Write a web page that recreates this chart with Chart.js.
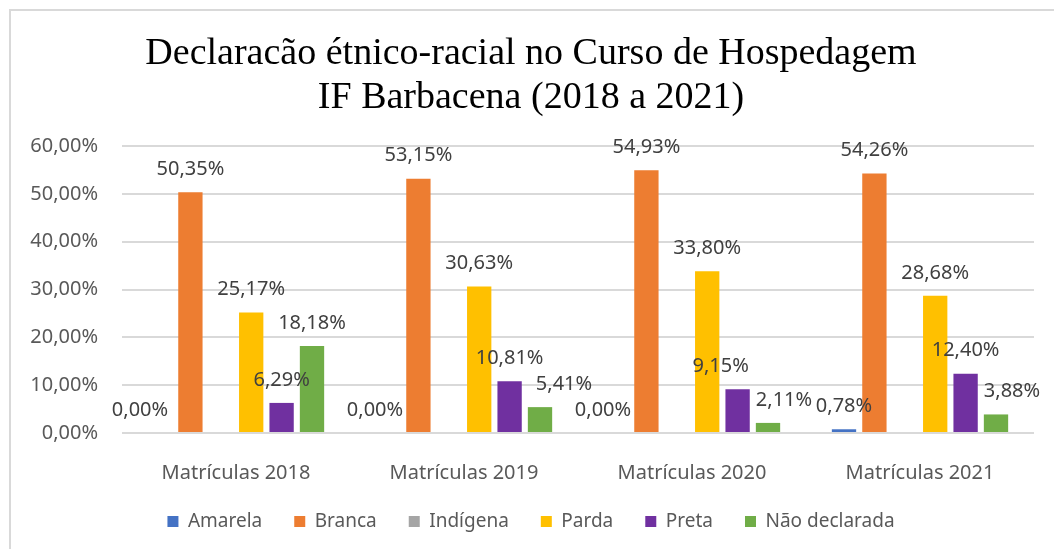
<!DOCTYPE html>
<html>
<head>
<meta charset="utf-8">
<script src="https://cdn.jsdelivr.net/npm/chart.js@4.4.1/dist/chart.umd.min.js"></script>
<style>
  html, body { margin: 0; padding: 0; background: #fff; }
  #wrap { position: relative; width: 1054px; height: 549px; overflow: hidden; }
  #frame { position: absolute; left: 9px; top: 9px; width: 1100px; height: 600px;
           border-top: 2px solid #d9d9d9; border-left: 2px solid #d9d9d9; }
  #chart { position: absolute; left: 0; top: 0; }
</style>
</head>
<body>
<div id="wrap">
  <div id="frame"></div>
  <canvas id="chart" width="1054" height="549"></canvas>
</div>
<script>
// categories and series (values in %)
var categories = ["Matrículas 2018", "Matrículas 2019", "Matrículas 2020", "Matrículas 2021"];
var amarela = [0.00, 0.00, 0.00, 0.78];
var branca = [50.35, 53.15, 54.93, 54.26];
var indigena = [0.00, 0.00, 0.00, 0.00];
var parda = [25.17, 30.63, 33.80, 28.68];
var preta = [6.29, 10.81, 9.15, 12.40];
var naoDeclarada = [18.18, 5.41, 2.11, 3.88];

var yMin = 0, yMax = 60, yStep = 10;

function pct(v) {
    return v.toFixed(2).replace(".", ",") + "%";
}

var labelFont = '20px "Noto Sans"';

// draws the value labels above each bar (Excel-style "outside end")
var valueLabels = {
    id: "valueLabels",
    afterDatasetsDraw: function (chart) {
        var ctx = chart.ctx;
        ctx.save();
        ctx.font = labelFont;
        ctx.fillStyle = "#404040";
        ctx.textAlign = "center";
        ctx.textBaseline = "middle";
        chart.data.datasets.forEach(function (ds, i) {
            if (ds.showLabels === false) return;
            var meta = chart.getDatasetMeta(i);
            meta.data.forEach(function (bar, j) {
                var dx = ds.labelDx ? ds.labelDx[j] : 0;
                ctx.fillText(pct(ds.data[j]), bar.x + dx, bar.y - 23);
            });
        });
        ctx.restore();
    }
};

var barData = {
    labels: categories,
    datasets: [
        { label: "Amarela", data: amarela, backgroundColor: "#4472C4", labelDx: [-20, -13, -13, 0] },
        { label: "Branca", data: branca, backgroundColor: "#ED7D31" },
        { label: "Indígena", data: indigena, backgroundColor: "#A5A5A5", showLabels: false },
        { label: "Parda", data: parda, backgroundColor: "#FFC000" },
        { label: "Preta", data: preta, backgroundColor: "#7030A0", labelDx: [0, 0, -17, 0] },
        { label: "Não declarada", data: naoDeclarada, backgroundColor: "#70AD47", labelDx: [0, 24, 16, 16] }
    ]
};

var barOptions = {
    responsive: false,
    animation: false,
    layout: { padding: { left: 28, right: 20, top: 0, bottom: 8 } },
    datasets: { bar: { barPercentage: 0.8, categoryPercentage: 0.8 } },
    plugins: {
        title: {
            display: true,
            text: ["Declaracão étnico-racial no Curso de Hospedagem", "IF Barbacena (2018 a 2021)"],
            color: "#000",
            font: { family: '"Liberation Serif"', size: 38, weight: "normal", lineHeight: 1.158 },
            padding: { top: 32, bottom: 26 }
        },
        legend: {
            position: "bottom",
            labels: {
                color: "#595959",
                font: { family: '"Noto Sans"', size: 19 },
                boxWidth: 11,
                boxHeight: 11,
                padding: 32
            }
        },
        tooltip: { enabled: false }
    },
    scales: {
        x: {
            grid: { display: false },
            border: { display: false },
            ticks: { color: "#595959", font: { family: '"Noto Sans"', size: 20 }, padding: 20 },
            afterFit: function (s) { s.height = 47; }
        },
        y: {
            min: yMin,
            max: yMax,
            grid: { color: "#d9d9d9", lineWidth: 2, drawTicks: false },
            border: { display: false },
            ticks: {
                stepSize: yStep,
                color: "#595959",
                font: { family: '"Noto Sans"', size: 20 },
                padding: 24,
                callback: function (v) { return pct(v); }
            },
            afterFit: function (s) { s.width = 94; }
        }
    }
};

var ctx = document.getElementById("chart").getContext("2d");
new Chart(ctx, { type: "bar", data: barData, options: barOptions, plugins: [valueLabels] });
</script>
</body>
</html>
